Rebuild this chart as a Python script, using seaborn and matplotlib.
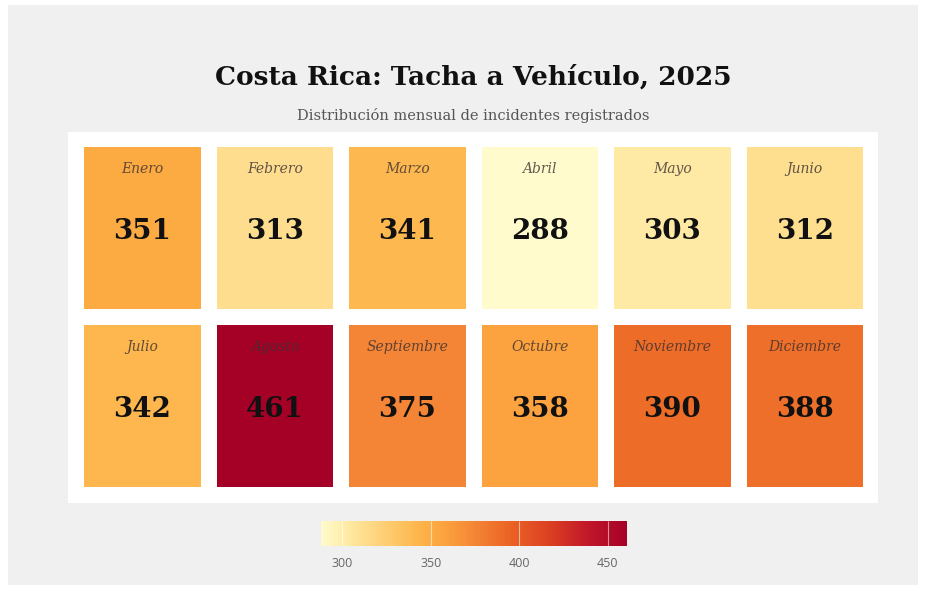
import numpy as np
import pandas as pd
import matplotlib
matplotlib.use('Agg')
import matplotlib.pyplot as plt
import seaborn as sns
from matplotlib.colors import LinearSegmentedColormap
from matplotlib.patches import Rectangle

# Datos
meses_fila1 = ['Enero', 'Febrero', 'Marzo', 'Abril', 'Mayo', 'Junio']
meses_fila2 = ['Julio', 'Agosto', 'Septiembre', 'Octubre', 'Noviembre', 'Diciembre']
valores_fila1 = [351, 313, 341, 288, 303, 312]
valores_fila2 = [342, 461, 375, 358, 390, 388]
ticks_cbar = [300, 350, 400, 450]

titulo = 'Costa Rica: Tacha a Vehículo, 2025'
subtitulo = 'Distribución mensual de incidentes registrados'

# Configuracion
sns.set_style('white')
plt.rcParams['font.family'] = ['DejaVu Serif']

meses = np.array([meses_fila1, meses_fila2])
valores = pd.DataFrame([valores_fila1, valores_fila2])

cmap = LinearSegmentedColormap.from_list('amarillo_rojo', [
    (0.00, '#fffbcc'),
    (0.09, '#fee9a2'),
    (0.15, '#fedb8a'),
    (0.32, '#fdb54a'),
    (0.40, '#fca33e'),
    (0.50, '#f48636'),
    (0.60, '#ec6826'),
    (0.75, '#db3f22'),
    (0.88, '#c0152a'),
    (1.00, '#a50026'),
])

fig = plt.figure(figsize=(9.26, 5.9), dpi=100, facecolor='white')
fig.patches.append(Rectangle((0.0086, 0.0085), 0.9828, 0.983, transform=fig.transFigure,
                             facecolor='#f0f0f0', edgecolor='none', zorder=-10))
fig.patches.append(Rectangle((0.0734, 0.1475), 0.8747, 0.6288, transform=fig.transFigure,
                             facecolor='white', edgecolor='none', zorder=-5))

ax = fig.add_axes([0.0821, 0.161, 0.8585, 0.6034])
cax = fig.add_axes([0.3467, 0.0746, 0.3305, 0.0424])

sns.heatmap(valores, cmap=cmap, vmin=valores.values.min(), vmax=valores.values.max(),
            linewidths=11.5, linecolor='white', xticklabels=False, yticklabels=False,
            cbar_ax=cax, cbar_kws={'orientation': 'horizontal', 'ticks': ticks_cbar}, ax=ax)

for r in range(valores.shape[0]):
    for c in range(valores.shape[1]):
        ax.text(c + 0.5, r + 0.17, meses[r, c], ha='center', va='center',
                fontsize=10, style='italic', color='#3c3030', alpha=0.8)
        ax.text(c + 0.5, r + 0.52, f'{valores.iloc[r, c]}', ha='center', va='center',
                fontsize=20, fontweight='bold', color='#111111')

# barra de color: lineas blancas tenues en los ticks
cbar = ax.collections[0].colorbar
cbar.outline.set_visible(False)
cbar.ax.set_axisbelow(False)
cbar.ax.tick_params(axis='x', bottom=True, direction='in', length=18, width=0.8,
                    color=(1, 1, 1, 0.55), labelcolor='#666666', labelsize=9, pad=8)
for lbl in cbar.ax.get_xticklabels():
    lbl.set_family('Open Sans')

fig.text(0.511, 0.8695, titulo, ha='center', va='center', fontsize=19,
         fontweight='bold', color='#111111')
fig.text(0.511, 0.805, subtitulo, ha='center', va='center', fontsize=10.5,
         color='#555555')

plt.savefig('out.png', dpi=100, facecolor=fig.get_facecolor())
plt.close()
